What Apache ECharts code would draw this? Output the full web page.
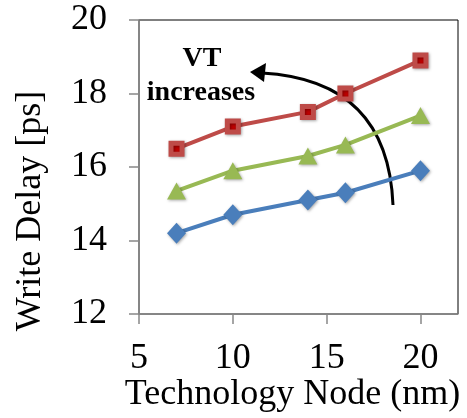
<!DOCTYPE html>
<html><head><meta charset="utf-8">
<script src="https://cdn.jsdelivr.net/npm/echarts@6/dist/echarts.min.js"></script>
<style>html,body{margin:0;padding:0;background:#fff}#c{width:467px;height:418px}</style>
</head><body><div id="c"></div>
<script>
const nodes = [7, 10, 14, 16, 20];
const lowVT = [14.2, 14.7, 15.1, 15.3, 15.9];
const midVT = [15.35, 15.9, 16.3, 16.6, 17.4];
const highVT = [16.5, 17.1, 17.5, 18.0, 18.9];
const xTicks = [5, 10, 15, 20];
const yTicks = [12, 14, 16, 18, 20];
const annotation = ['VT', 'increases'];

const font = '"Liberation Serif","Times New Roman",serif';
const pair = a => nodes.map((x, i) => [x, a[i]]);
const shadow = {shadowBlur: 3, shadowColor: 'rgba(0,0,0,0.35)', shadowOffsetX: 1, shadowOffsetY: 1};

const chart = echarts.init(document.getElementById('c'), null, {renderer: 'canvas'});
chart.setOption({
  animation: false,
  grid: {left: 139, top: 20, right: 9, bottom: 104, show: true, borderColor: '#000', borderWidth: 1,
         containLabel: false, outerBoundsMode: 'none'},
  xAxis: {
    type: 'value', min: 5, max: 22, interval: 5,
    name: 'Technology Node (nm)', nameLocation: 'middle', nameGap: 63, nameMoveOverlap: false,
    nameTextStyle: {fontFamily: font, fontSize: 36, color: '#000', padding: [0, 12, 0, 0]},
    axisLine: {show: true, lineStyle: {color: '#888', width: 1.5}},
    axisTick: {show: true, length: 10, lineStyle: {color: '#888', width: 1.5}, customValues: xTicks},
    axisLabel: {fontFamily: font, fontSize: 36, color: '#000', margin: 27, customValues: xTicks},
    splitLine: {show: false}
  },
  yAxis: {
    type: 'value', min: 12, max: 20, interval: 2,
    name: 'Write Delay [ps]', nameLocation: 'middle', nameGap: 90, nameMoveOverlap: false,
    nameTextStyle: {fontFamily: font, fontSize: 36, color: '#000', padding: [0, 88, 0, 0]},
    axisLine: {show: true, lineStyle: {color: '#888', width: 1.5}},
    axisTick: {show: true, length: 10, lineStyle: {color: '#888', width: 1.5}, customValues: yTicks},
    axisLabel: {fontFamily: font, fontSize: 36, color: '#000', margin: 32, customValues: yTicks},
    splitLine: {show: false}
  },
  series: [
    {type: 'line', data: pair(lowVT), symbol: 'diamond', symbolSize: [19, 21],
     lineStyle: {color: '#4A7EBB', width: 4}, itemStyle: Object.assign({color: '#4A7EBB'}, shadow)},
    {type: 'line', data: pair(midVT), symbol: 'triangle', symbolSize: [19, 17],
     lineStyle: {color: '#98B954', width: 4}, itemStyle: Object.assign({color: '#98B954'}, shadow)},
    {type: 'line', data: pair(highVT), symbol: 'rect', symbolSize: 11,
     lineStyle: {color: '#BE4B48', width: 4},
     itemStyle: Object.assign({color: '#C00000', borderColor: '#BE4B48', borderWidth: 5}, shadow)}
  ],
  graphic: [
    {type: 'text', style: {text: annotation[0], x: 202, y: 59, align: 'center', verticalAlign: 'middle', font: 'bold 28px ' + font, fill: '#000'}},
    {type: 'text', style: {text: annotation[1], x: 201, y: 93, align: 'center', verticalAlign: 'middle', font: 'bold 28px ' + font, fill: '#000'}},
    {type: 'bezierCurve', shape: {x1: 393, y1: 205, cpx1: 388, cpy1: 80, x2: 262, y2: 73},
     style: {stroke: '#000', lineWidth: 3, fill: null}},
    {type: 'polygon', shape: {points: [[250, 72], [266, 63], [264, 82]]}, style: {fill: '#000'}}
  ]
});
</script></body></html>
